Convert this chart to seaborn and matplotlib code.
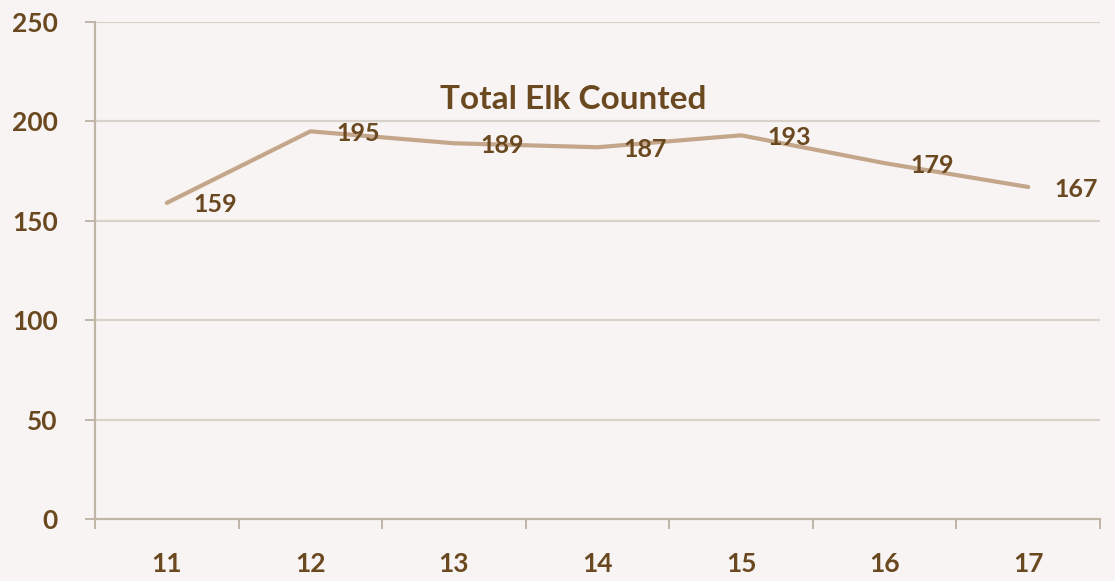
import matplotlib
matplotlib.use("Agg")
import matplotlib.pyplot as plt
from matplotlib.ticker import FixedLocator
import seaborn as sns
import pandas as pd

years = ["11", "12", "13", "14", "15", "16", "17"]
elk_counts = [159, 195, 189, 187, 193, 179, 167]
y_ticks = [0, 50, 100, 150, 200, 250]
title = "Total Elk Counted"

BG = "#F8F4F3"
LINE = "#C4A68A"
TEXT = "#6B4920"
GRID = "#D8D2CA"
AXIS = "#BFB6A8"

sns.set_theme(style="white")
plt.rcParams["font.family"] = ["Lato", "DejaVu Sans"]

df = pd.DataFrame({"year": years, "count": elk_counts})

fig = plt.figure(figsize=(11.15, 5.81), dpi=100, facecolor=BG)
ax = fig.add_axes([95 / 1115, 62 / 581, 1005 / 1115, 497 / 581])
ax.set_facecolor(BG)

sns.pointplot(data=df, x="year", y="count", color=LINE, marker="",
              linewidth=3.0, errorbar=None, ax=ax)

ax.set_ylim(0, 250)
ax.set_xlim(-0.5, len(years) - 0.5)
ax.set_yticks(y_ticks)
ax.set_xlabel("")
ax.set_ylabel("")

# horizontal gridlines
for v in y_ticks[1:]:
    ax.axhline(v, color=GRID, lw=1.6, zorder=0)

for side in ["top", "right"]:
    ax.spines[side].set_visible(False)
for side in ["left", "bottom"]:
    ax.spines[side].set_color(AXIS)
    ax.spines[side].set_linewidth(1.6)

# category boundary tick marks on x, value ticks on y
ax.xaxis.set_minor_locator(FixedLocator([i - 0.5 for i in range(len(years) + 1)]))
ax.tick_params(axis="x", which="major", length=0, pad=24,
               labelsize=19, labelcolor=TEXT)
ax.tick_params(axis="x", which="minor", length=7, width=1.4, color=AXIS,
               bottom=True)
ax.tick_params(axis="y", which="major", length=7, width=1.4, color=AXIS,
               left=True, pad=20, labelsize=19, labelcolor=TEXT)
for lab in ax.get_xticklabels() + ax.get_yticklabels():
    lab.set_fontweight("bold")

# data labels to the right of each point
for i, v in enumerate(elk_counts):
    ax.annotate(str(v), (i, v), xytext=(48, -2), textcoords="offset pixels",
                ha="center", va="center", fontsize=18, fontweight="bold",
                color=TEXT)

ax.text(2.83, 211, title, ha="center", va="center", fontsize=24,
        fontweight="bold", color=TEXT)

fig.savefig("out.png", dpi=100, facecolor=BG)
